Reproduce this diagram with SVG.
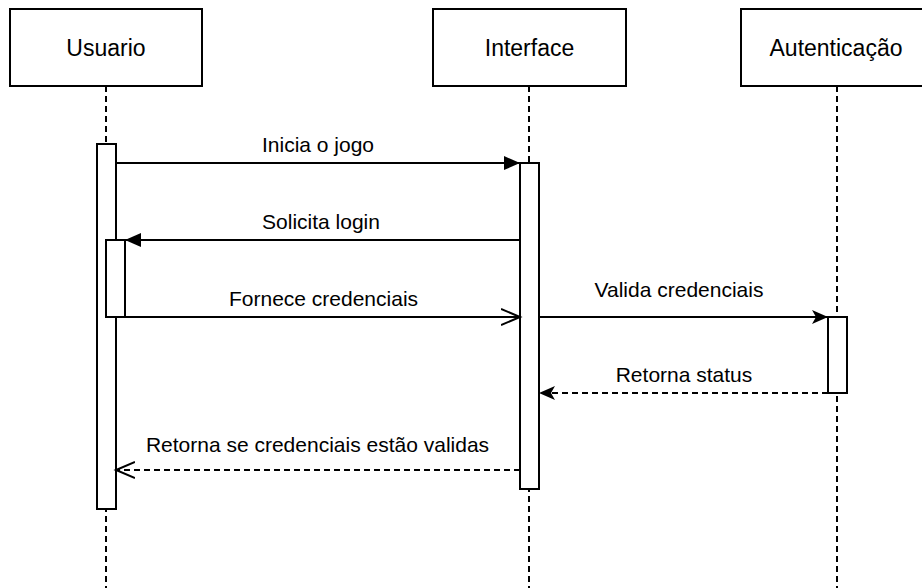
<svg xmlns="http://www.w3.org/2000/svg" width="922" height="588" viewBox="0 0 922 588">
<style>
.head{fill:#fff;stroke:#000;stroke-width:2}
.act{fill:#fff;stroke:#000;stroke-width:2}
.life{stroke:#000;stroke-width:2;stroke-dasharray:6 4;fill:none}
.msg{stroke:#000;stroke-width:2;fill:none}
.ret{stroke:#000;stroke-width:2;fill:none;stroke-dasharray:6 4}
text{font-family:"Liberation Sans",Arial,sans-serif;font-size:21px;fill:#000;text-anchor:middle}
text.h{font-size:23px}
</style>
<defs>
<marker id="block" markerUnits="userSpaceOnUse" markerWidth="18" markerHeight="16" refX="16" refY="8" orient="auto"><path d="M0,1 L16,8 L0,15 Z" fill="#000"/></marker>
<marker id="classic" markerUnits="userSpaceOnUse" markerWidth="18" markerHeight="16" refX="16" refY="8" orient="auto"><path d="M0,1 L16,8 L0,15 L4,8 Z" fill="#000"/></marker>
<marker id="open" markerUnits="userSpaceOnUse" markerWidth="22" markerHeight="20" refX="19" refY="10" orient="auto"><path d="M0,2 L19,10 L0,18" fill="none" stroke="#000" stroke-width="2"/></marker>
</defs>
<g id="lifeline-usuario">
<rect class="head" x="10" y="9" width="192" height="77"/>
<text class="h" x="106" y="56">Usuario</text>
<line class="life" x1="106" y1="86" x2="106" y2="588"/>
</g>
<g id="lifeline-interface">
<rect class="head" x="433" y="9" width="193" height="77"/>
<text class="h" x="529.5" y="56">Interface</text>
<line class="life" x1="529" y1="86" x2="529" y2="588"/>
</g>
<g id="lifeline-autenticacao">
<rect class="head" x="741" y="9" width="192" height="77"/>
<text class="h" x="836" y="56">Autenticação</text>
<line class="life" x1="837" y1="86" x2="837" y2="588"/>
</g>
<g id="act-usuario"><rect class="act" x="97" y="144" width="19" height="365"/></g>
<g id="act-usuario-2"><rect class="act" x="106" y="240" width="19" height="77"/></g>
<g id="act-interface"><rect class="act" x="520" y="163" width="19" height="326"/></g>
<g id="act-autenticacao"><rect class="act" x="828" y="317" width="19" height="76"/></g>
<g id="connectors">
<line class="msg" x1="116" y1="163" x2="520" y2="163" marker-end="url(#block)"/>
<line class="msg" x1="520" y1="240" x2="125" y2="240" marker-end="url(#block)"/>
<line class="msg" x1="125" y1="317" x2="520" y2="317" marker-end="url(#open)"/>
<line class="msg" x1="539" y1="317" x2="828" y2="317" marker-end="url(#classic)"/>
<line class="ret" x1="828" y1="393" x2="539" y2="393" marker-end="url(#classic)"/>
<line class="ret" x1="520" y1="470" x2="116" y2="470" marker-end="url(#open)"/>
<text x="318" y="152">Inicia o jogo</text>
<text x="321" y="229">Solicita login</text>
<text x="323.5" y="306">Fornece credenciais</text>
<text x="679" y="297">Valida credenciais</text>
<text x="684" y="382">Retorna status</text>
<text x="317.5" y="452">Retorna se credenciais estão validas</text>
</g>
</svg>
